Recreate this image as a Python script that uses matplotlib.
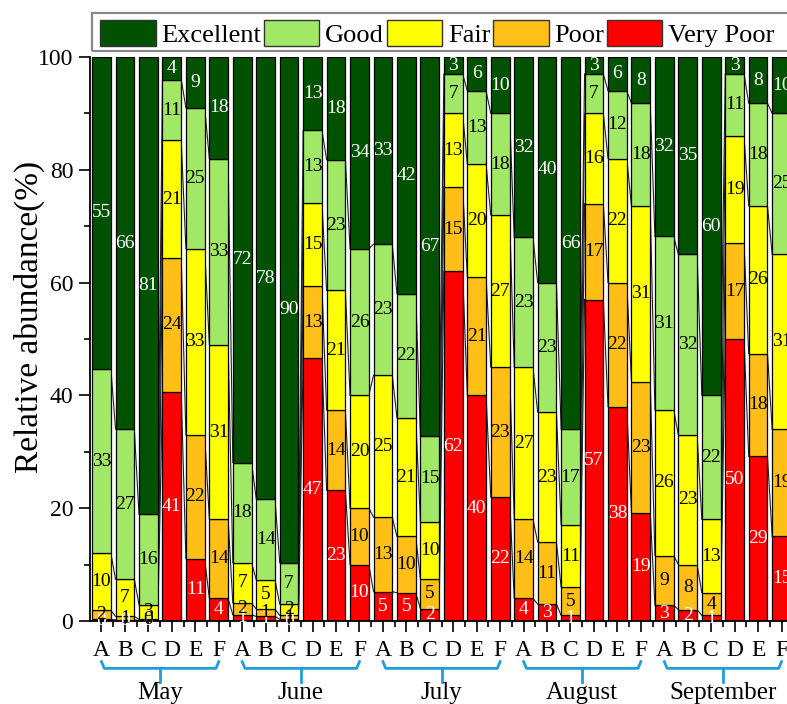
import numpy as np
import matplotlib
matplotlib.use("Agg")
import matplotlib.pyplot as plt
from matplotlib.patches import Patch, Rectangle
import matplotlib.transforms as mtransforms

plt.rcParams['font.family'] = ['Liberation Serif', 'DejaVu Serif']

months = ['May', 'June', 'July', 'August', 'September']
sites = ['A', 'B', 'C', 'D', 'E', 'F']
classes = ['Excellent', 'Good', 'Fair', 'Poor', 'Very Poor']
colors = {'Excellent': '#005200', 'Good': '#a0e866', 'Fair': '#ffff00',
          'Poor': '#ffbf17', 'Very Poor': '#ff0000'}

# values per bar, May A..F, June A..F, ... September A..F
very_poor = [0.3, 0.2, 0.1, 40.6, 11, 4,
             1.1, 0.8, 0.3, 46.6, 23.2, 10,
             5.2, 5, 2.2, 62, 40, 22,
             4, 3, 1, 57, 38, 19.2,
             2.8, 2, 1, 50, 29.2, 15]
poor = [1.6, 0.6, 0.2, 23.8, 22, 14,
        2.1, 1.3, 0.7, 12.8, 14.2, 10,
        13.2, 10, 5.2, 15, 21, 23,
        14, 11, 5, 17, 22, 23.2,
        8.8, 8, 4, 17, 18.2, 19]
fair = [10.1, 6.6, 2.6, 20.8, 33, 31,
        7.1, 5.2, 2.0, 14.8, 21.2, 20,
        25.2, 21, 10.2, 13, 20, 27,
        27, 23, 11, 16, 22, 31.2,
        25.8, 23, 13, 19, 26.2, 31]
good = [32.7, 26.6, 16.0, 10.8, 25, 33,
        17.8, 14.3, 7.3, 12.8, 23.2, 26,
        23.2, 22, 15.2, 7, 13, 18,
        23, 23, 17, 7, 12, 18.2,
        30.8, 32, 22, 11, 18.2, 25]
excellent = [55.3, 66.0, 81.1, 4.0, 9, 18,
             71.9, 78.4, 89.7, 13.0, 18.2, 34,
             33.2, 42, 67.2, 3, 6, 10,
             32, 40, 66, 3, 6, 8.2,
             31.8, 35, 60, 3, 8.2, 10]

stack = [('Very Poor', very_poor), ('Poor', poor), ('Fair', fair),
         ('Good', good), ('Excellent', excellent)]

fig = plt.figure(figsize=(7.87, 7.04), dpi=100)
ax = fig.add_axes([90/787, 1-621/704, 0.8966, 564/704])

x = np.arange(len(very_poor))
w = 0.8
bottom = np.zeros(len(x))
levels = []
for name, vals in stack:
    vals = np.array(vals, dtype=float)
    ax.bar(x, vals, width=w, bottom=bottom, color=colors[name],
           edgecolor='black', linewidth=0.9, zorder=2)
    tc = 'white' if name in ('Very Poor', 'Excellent') else 'black'
    for xi, b, v in zip(x, bottom, vals):
        ax.text(xi, b + v/2, f"{v:.0f}", ha='center', va='center',
                fontsize=14, color=tc, zorder=4)
    bottom = bottom + vals
    levels.append(bottom.copy())

# connecting lines between neighbouring bars
for lev in levels[:-1]:
    for i in range(len(x) - 1):
        ax.plot([x[i] + w/2, x[i+1] - w/2], [lev[i], lev[i+1]],
                color='#222222', lw=0.8, zorder=1)

ax.set_xlim(-0.49, 29.6)
ax.set_ylim(0, 100)
ax.set_xticks(x)
ax.set_xticklabels(sites * len(months), fontsize=17)
ax.set_xticks(x[:-1] + 0.5, minor=True)
ax.set_yticks([0, 20, 40, 60, 80, 100])
ax.set_yticks(np.arange(10, 100, 20), minor=True)
ax.tick_params(axis='both', which='major', direction='out', length=8,
               width=1.2, labelsize=17)
ax.tick_params(axis='both', which='minor', direction='out', length=4,
               width=1.2)
ax.tick_params(axis='x', which='major', pad=6)
ax.tick_params(axis='y', which='major', pad=4)
ax.spines['top'].set_visible(False)
ax.spines['right'].set_visible(False)
ax.spines['left'].set_linewidth(1.3)
ax.spines['bottom'].set_linewidth(1.3)

ax.set_ylabel('Relative abundance(%)', fontsize=24)
ax.yaxis.set_label_coords(-0.064, 0.54)

# month brackets
trans = mtransforms.blended_transform_factory(ax.transData, ax.transAxes)
bc = '#1e9fdc'
for m, name in enumerate(months):
    a = m * 6
    f = a + 5
    ax.plot([a, a + 0.12, f - 0.12, f], [-0.072, -0.084, -0.084, -0.072],
            color=bc, lw=2, transform=trans, clip_on=False)
    mid = (a + f) / 2
    ax.plot([mid, mid], [-0.084, -0.108], color=bc, lw=2,
            transform=trans, clip_on=False)
    ax.text(mid, -0.127, name, transform=trans, ha='center', va='center',
            fontsize=18)

# legend (frame drawn separately so it runs off the right edge like the source)
handles = [Patch(facecolor=colors[c], edgecolor='#333333', linewidth=1)
           for c in classes]
leg = fig.legend(handles, classes, loc='upper left',
                 bbox_to_anchor=(95/787, 1-15/704), ncol=5, fontsize=19,
                 frameon=False, handlelength=2.1, handleheight=1.15,
                 handletextpad=0.22, columnspacing=0.1, borderpad=0.2,
                 borderaxespad=0)
fig.patches.append(Rectangle((92/787, 1-51/704), 0.95, 38/704,
                             transform=fig.transFigure, fill=False,
                             edgecolor='#888888', linewidth=1.6))

fig.savefig('out.png', dpi=100)
